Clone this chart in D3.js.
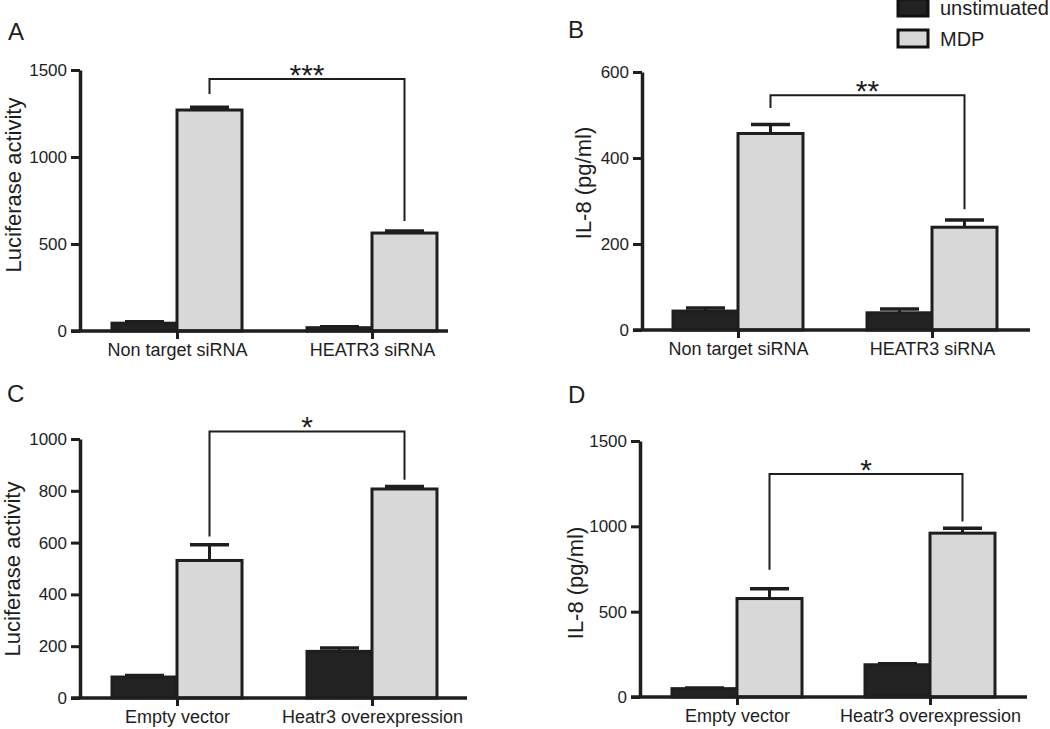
<!DOCTYPE html>
<html><head><meta charset="utf-8">
<script src="https://cdn.jsdelivr.net/npm/d3@7"></script>
<style>
html,body{margin:0;padding:0;background:#fff;}
svg{display:block;font-family:"Liberation Sans",Arial,sans-serif;}
</style></head>
<body>
<svg id="chart" width="1050" height="729"></svg>
<script>
// ---------- data ----------
const seriesNames = ["unstimuated", "MDP"];
const panelLetters = ["A", "B", "C", "D"];
const yTitles = ["Luciferase activity", "IL-8 (pg/ml)", "Luciferase activity", "IL-8 (pg/ml)"];
const categoriesTop = ["Non target siRNA", "HEATR3 siRNA"];
const categoriesBottom = ["Empty vector", "Heatr3 overexpression"];

const yMax = [1500, 600, 1000, 1500];
const yTicksA = [0, 500, 1000, 1500];
const yTicksB = [0, 200, 400, 600];
const yTicksC = [0, 200, 400, 600, 800, 1000];
const yTicksD = [0, 500, 1000, 1500];

const unstimA = [45, 19], unstimSemA = [8, 6];
const mdpA = [1270, 563], mdpSemA = [16, 11];
const unstimB = [44, 40], unstimSemB = [7, 9];
const mdpB = [457, 239], mdpSemB = [21, 17];
const unstimC = [81, 180], unstimSemC = [6, 13];
const mdpC = [531, 807], mdpSemC = [61, 10];
const unstimD = [49, 189], unstimSemD = [4, 6];
const mdpD = [577, 960], mdpSemD = [57, 29];

const starLabels = ["***", "**", "*", "*"];
// bracket: [top, left leg bottom, right leg bottom] in data units
const bracketA = [1448, 1362, 632];
const bracketB = [546, 516, 281];
const bracketC = [1029, 624, 843];
const bracketD = [1307, 745, 1028];

// ---------- layout ----------
const layouts = [
  {axisX: 80,  yTop: 70,  yBot: 331, xEnd: 448, c1: 97, c2: 292, letter: [8, 40],  title: [13, 185]},
  {axisX: 642, yTop: 72,  yBot: 330, xEnd: 1030, c1: 96, c2: 290, letter: [568, 38], title: [583, 183]},
  {axisX: 80,  yTop: 439, yBot: 698, xEnd: 467, c1: 97, c2: 292, letter: [7, 402], title: [12, 569]},
  {axisX: 640, yTop: 441, yBot: 697, xEnd: 1027, c1: 97, c2: 290, letter: [568, 403], title: [575, 583]}
];

const panels = [
  {cats: categoriesTop, ticks: yTicksA, vals: [unstimA, mdpA], sems: [unstimSemA, mdpSemA], br: bracketA},
  {cats: categoriesTop, ticks: yTicksB, vals: [unstimB, mdpB], sems: [unstimSemB, mdpSemB], br: bracketB},
  {cats: categoriesBottom, ticks: yTicksC, vals: [unstimC, mdpC], sems: [unstimSemC, mdpSemC], br: bracketC},
  {cats: categoriesBottom, ticks: yTicksD, vals: [unstimD, mdpD], sems: [unstimSemD, mdpSemD], br: bracketD}
];

const ink = "#1e1e1e";
const fills = ["#222", "#d8d8d8"];
const FONT = "Liberation Sans, Arial, sans-serif";
const svg = d3.select("#chart");

panels.forEach((p, i) => {
  const L = layouts[i];
  const g = svg.append("g");
  const y = d3.scaleLinear().domain([0, yMax[i]]).range([L.yBot, L.yTop]);
  const x = d3.scalePoint().domain(p.cats).range([L.axisX + L.c1, L.axisX + L.c2]);
  const sub = d3.scaleBand().domain(seriesNames).range([-65, 65]).padding(0);
  const bw = sub.bandwidth();

  // bars
  seriesNames.forEach((s, si) => {
    p.cats.forEach((c, ci) => {
      const v = p.vals[si][ci], e = p.sems[si][ci];
      const bx = x(c) + sub(s);
      const cx = bx + bw / 2;
      g.append("line").attr("x1", cx).attr("x2", cx)
        .attr("y1", y(v)).attr("y2", y(v + e))
        .attr("stroke", ink).attr("stroke-width", 3);
      g.append("line").attr("x1", cx - bw * 0.3).attr("x2", cx + bw * 0.3)
        .attr("y1", y(v + e)).attr("y2", y(v + e))
        .attr("stroke", ink).attr("stroke-width", 3.5);
      g.append("rect").attr("x", bx).attr("y", y(v))
        .attr("width", bw).attr("height", y(0) - y(v))
        .attr("fill", fills[si]).attr("stroke", ink).attr("stroke-width", 3);
    });
  });

  // y axis
  const ya = d3.axisLeft(y).tickValues(p.ticks).tickFormat(d3.format("d"))
    .tickSize(9).tickPadding(4).tickSizeOuter(0);
  const yg = g.append("g").attr("transform", `translate(${L.axisX},0)`).call(ya);
  yg.attr("font-family", FONT).attr("font-size", 17);
  yg.select(".domain").attr("stroke", ink).attr("stroke-width", 3.5);
  yg.selectAll(".tick line").attr("stroke", ink).attr("stroke-width", 3);
  yg.selectAll(".tick text").attr("fill", ink);

  // x axis
  const xa = d3.axisBottom(x).tickSize(8).tickPadding(4).tickSizeOuter(0);
  const xg = g.append("g").attr("transform", `translate(0,${L.yBot})`).call(xa);
  xg.attr("font-family", FONT).attr("font-size", 18);
  xg.select(".domain").remove();
  xg.append("line").attr("x1", L.axisX - 9).attr("x2", L.xEnd).attr("y1", 0).attr("y2", 0)
    .attr("stroke", ink).attr("stroke-width", 3.5);
  xg.selectAll(".tick line").attr("stroke", ink).attr("stroke-width", 3);
  xg.selectAll(".tick text").attr("fill", ink);

  // bracket
  const lx = x(p.cats[0]) + sub("MDP") + bw / 2;
  const rx = x(p.cats[1]) + sub("MDP") + bw / 2;
  const [bt, bl, brr] = p.br;
  g.append("path")
    .attr("d", `M${lx},${y(bl)}V${y(bt)}H${rx}V${y(brr)}`)
    .attr("fill", "none").attr("stroke", ink).attr("stroke-width", 2);
  g.append("text").attr("x", (lx + rx) / 2).attr("y", y(bt) + 6)
    .attr("text-anchor", "middle").attr("fill", ink).style("font-size", "30px")
    .text(starLabels[i]);

  // titles
  g.append("text").attr("transform", `translate(${L.title[0]},${L.title[1]}) rotate(-90)`)
    .attr("text-anchor", "middle").attr("dy", "0.35em").attr("fill", ink)
    .style("font-size", "22px").text(yTitles[i]);
  g.append("text").attr("x", L.letter[0]).attr("y", L.letter[1])
    .attr("fill", ink).style("font-size", "24px").text(panelLetters[i]);
});

// legend
const leg = svg.append("g");
seriesNames.forEach((s, si) => {
  const ly = -1 + si * 31;
  leg.append("rect").attr("x", 898).attr("y", ly).attr("width", 30).attr("height", 17)
    .attr("fill", fills[si]).attr("stroke", "#111").attr("stroke-width", 3);
  leg.append("text").attr("x", 940).attr("y", ly + 9).attr("dy", "0.35em")
    .attr("fill", ink).style("font-size", "20px").text(s);
});
</script>
</body></html>
